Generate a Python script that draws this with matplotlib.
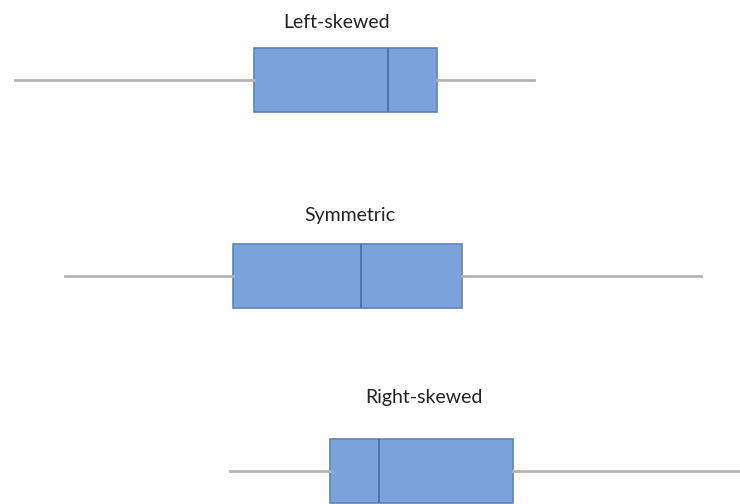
import matplotlib.pyplot as plt

# five-number summaries, in horizontal units of the picture
labels = ["Left-skewed", "Symmetric", "Right-skewed"]
mins = [15, 65, 230]
q1s = [254, 233, 330]
medians = [388, 361, 379]
q3s = [437, 462, 513]
maxs = [534, 701, 745]

rows = [80, 276, 471]
title_x = [337, 350, 424]
title_y = [22, 216, 398]

stats = []
for lab, lo, a, m, b, hi in zip(labels, mins, q1s, medians, q3s, maxs):
    stats.append({"label": lab, "whislo": lo, "q1": a, "med": m,
                  "q3": b, "whishi": hi, "fliers": []})

fig = plt.figure(figsize=(7.4, 5.04), dpi=100)
ax = fig.add_axes([0, 0, 1, 1])

ax.bxp(stats, positions=rows, widths=64, orientation="horizontal",
       showcaps=False, showfliers=False, patch_artist=True,
       boxprops=dict(facecolor="#7aa3dc", edgecolor="#5f83b8", linewidth=1.2),
       medianprops=dict(color="#4a70a8", linewidth=1.3),
       whiskerprops=dict(color="#b4b4b4", linewidth=2))

for lab, x, y in zip(labels, title_x, title_y):
    ax.text(x, y, lab, ha="center", va="center", fontsize=14,
            family="Lato", color="#222222")

ax.set_xlim(0, 740)
ax.set_ylim(504, 0)
ax.axis("off")

fig.savefig("out.png", dpi=100)
